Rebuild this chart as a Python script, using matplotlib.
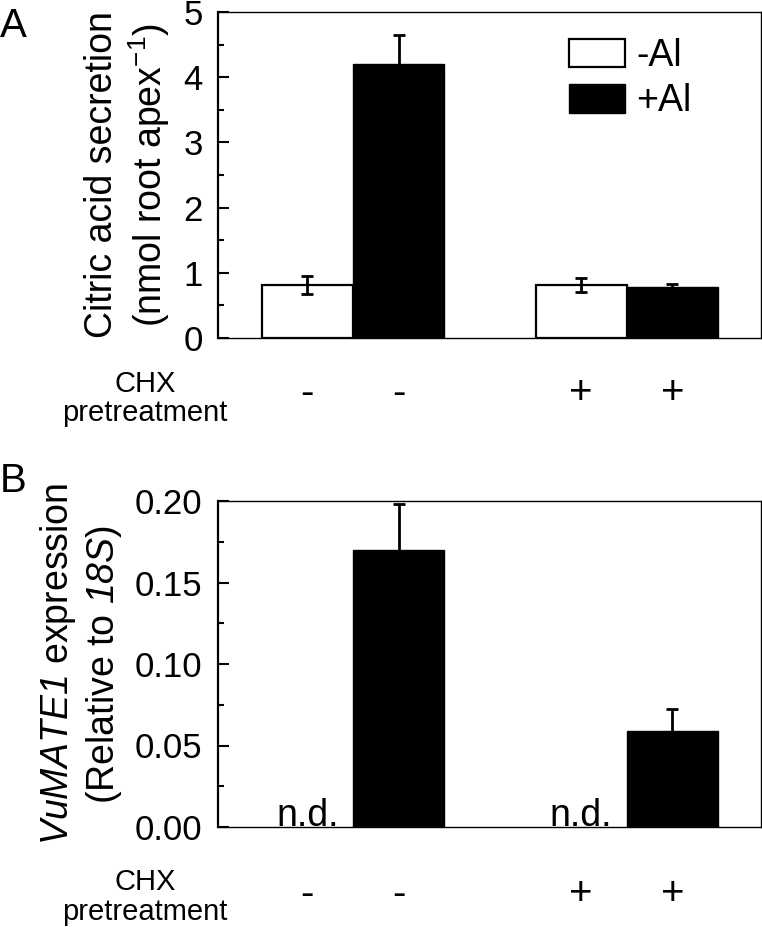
import matplotlib
matplotlib.use('Agg')
import matplotlib.pyplot as plt
from matplotlib.patches import Patch
import numpy as np

plt.rcParams['font.family'] = ['Liberation Sans', 'DejaVu Sans']
plt.rcParams['mathtext.fontset'] = 'custom'
plt.rcParams['mathtext.rm'] = 'Liberation Sans'
plt.rcParams['mathtext.it'] = 'Liberation Sans:italic'
plt.rcParams['mathtext.sf'] = 'Liberation Sans:italic'

# ---- data ----
series_labels = ['-Al', '+Al']
chx_labels = ['-', '-', '+', '+']
cit_minus = [0.81, 0.81]
cit_minus_err = [0.14, 0.11]
cit_plus = [4.21, 0.78]
cit_plus_err = [0.43, 0.05]
mate_plus = [0.170, 0.059]
mate_plus_err = [0.028, 0.0136]
nd_label = 'n.d.'

W, H = 762, 927
fig = plt.figure(figsize=(W / 100, H / 100), dpi=100)

group_x = np.array([0, 3])
bar_w = 1.0
xlim = (-0.98, 4.97)

def fx(px):
    return px / W

def fy(py):
    return 1 - py / H

def style_axes(ax):
    ax.set_xlim(*xlim)
    ax.set_xticks([])
    for s in ['top', 'right', 'bottom']:
        ax.spines[s].set_linewidth(1.0)
    ax.spines['left'].set_linewidth(1.6)
    ax.tick_params(axis='y', which='major', direction='in', length=8, width=1.5,
                   labelsize=25, pad=11)
    ax.tick_params(axis='y', which='minor', direction='in', length=4, width=1.5)

err_kw = dict(ecolor='black', elinewidth=2.0, capsize=4, capthick=2.0)
all_x = [group_x[0], group_x[0] + 1, group_x[1], group_x[1] + 1]

# ---- Panel A ----
axA = fig.add_axes([fx(218), fy(338), (761 - 218) / W, 326 / H])
axA.bar(group_x, cit_minus, width=bar_w, color='white', edgecolor='black',
        linewidth=1.6, label=series_labels[0], zorder=2)
axA.bar(group_x + 1, cit_plus, width=bar_w, color='black', edgecolor='black',
        linewidth=1.0, label=series_labels[1], zorder=2)
axA.errorbar(group_x, cit_minus, yerr=cit_minus_err, fmt='none', zorder=3, **err_kw)
axA.errorbar(group_x + 1, cit_plus, yerr=cit_plus_err, fmt='none', zorder=3, **err_kw)
axA.set_ylim(0, 5)
axA.set_yticks(np.arange(0, 6, 1))
axA.set_yticks(np.arange(0.5, 5, 1), minor=True)
style_axes(axA)
axA.set_ylabel('Citric acid secretion\n(nmol root apex$^{-1}$)', fontsize=27,
               labelpad=8, linespacing=1.2)

handles = [Patch(facecolor='white', edgecolor='black', linewidth=1.6),
           Patch(facecolor='black', edgecolor='black', linewidth=1.0)]
axA.legend(handles, series_labels, loc='upper left',
           bbox_to_anchor=(fx(569), fy(38)), bbox_transform=fig.transFigure,
           frameon=False, fontsize=27, handlelength=1.5, handleheight=0.8,
           handletextpad=0.3, labelspacing=0.25, borderpad=0, borderaxespad=0)

for xp, lab in zip(all_x, chx_labels):
    axA.text(xp, -0.2025, lab, transform=axA.get_xaxis_transform(), ha='center',
             va='baseline', fontsize=29, clip_on=False)

fig.text(fx(145), fy(392), 'CHX', ha='center', va='baseline', fontsize=21)
fig.text(fx(145), fy(421), 'pretreatment', ha='center', va='baseline', fontsize=21)
fig.text(fx(0), fy(37), 'A', ha='left', va='baseline', fontsize=29)

# ---- Panel B ----
axB = fig.add_axes([fx(218), fy(827), (761 - 218) / W, 326 / H])
axB.bar(group_x + 1, mate_plus, width=bar_w, color='black', edgecolor='black',
        linewidth=1.0, zorder=2)
axB.errorbar(group_x + 1, mate_plus, yerr=mate_plus_err, fmt='none', zorder=3, **err_kw)
axB.set_ylim(0, 0.2)
axB.set_yticks(np.arange(0, 0.201, 0.05))
axB.set_yticks(np.arange(0.025, 0.2, 0.05), minor=True)
axB.yaxis.set_major_formatter(matplotlib.ticker.FormatStrFormatter('%.2f'))
style_axes(axB)
axB.set_ylabel('$\\mathsf{VuMATE1}$ expression\n(Relative to $\\mathsf{18S}$)',
               fontsize=27, labelpad=8, linespacing=1.2)

for xp in group_x:
    axB.text(xp, 0.0006, nd_label, ha='center', va='baseline', fontsize=27)

for xp, lab in zip(all_x, chx_labels):
    axB.text(xp, -0.239, lab, transform=axB.get_xaxis_transform(), ha='center',
             va='baseline', fontsize=29, clip_on=False)

fig.text(fx(145), fy(890), 'CHX', ha='center', va='baseline', fontsize=21)
fig.text(fx(145), fy(920), 'pretreatment', ha='center', va='baseline', fontsize=21)
fig.text(fx(0), fy(492), 'B', ha='left', va='baseline', fontsize=29)

fig.savefig('out.png', dpi=100)
